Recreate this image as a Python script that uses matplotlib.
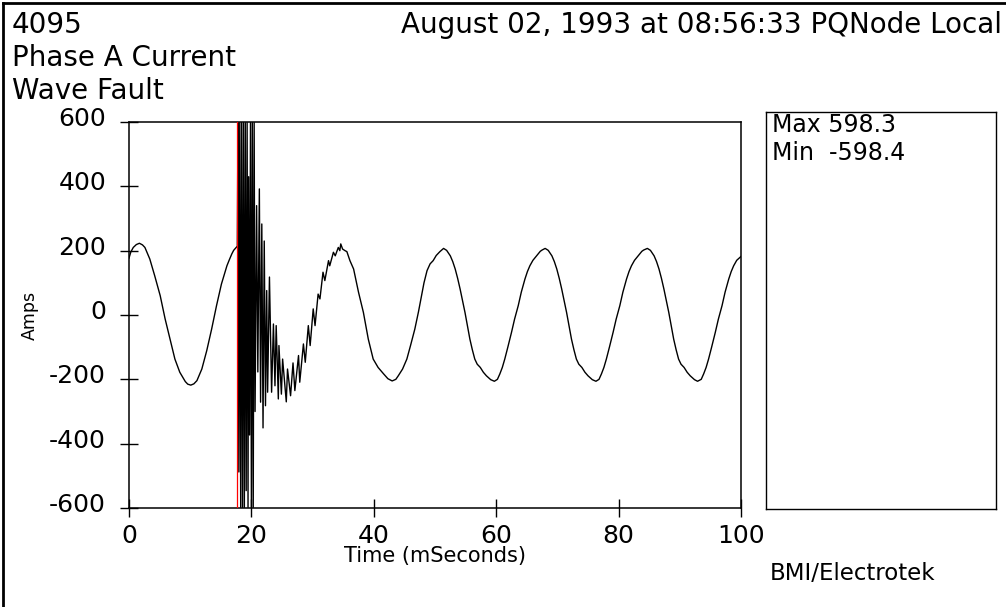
import matplotlib
matplotlib.use("Agg")
import matplotlib.pyplot as plt
from matplotlib.lines import Line2D
from matplotlib.transforms import ScaledTranslation

plt.rcParams["axes.unicode_minus"] = False

# Phase A current record (ms, A)
TIME_MS = [
    # pre-fault cycle
    0.0, 0.3, 0.7, 1.2, 1.7, 2.2, 2.6, 3.4, 4.2, 5.1, 5.9, 6.7, 7.5, 8.3,
    9.2, 9.6, 10.1, 10.6, 11.1, 11.9, 12.7, 13.5, 14.3, 15.1, 16.0, 16.4,
    16.8, 17.1, 17.5, 17.7,
    # fault ringing
    17.80, 17.95, 18.10, 18.25, 18.40, 18.55, 18.70, 18.85, 19.00, 19.15,
    19.30, 19.45, 19.55, 19.70, 19.85, 20.00, 20.15, 20.30, 20.45, 20.60,
    20.85, 21.05, 21.30, 21.50, 21.70, 21.90, 22.10, 22.30, 22.50, 22.65,
    22.95, 23.30, 23.60, 23.85, 24.05, 24.40, 24.50, 24.90, 25.10, 25.70,
    25.90, 26.40, 26.80, 27.10, 27.70, 27.90, 28.50, 28.80, 29.30, 29.60,
    30.10, 30.40, 30.90, 31.20, 31.70, 32.00, 32.60, 32.80, 33.40, 33.70,
    34.20, 34.45, 34.60, 34.90, 35.30, 35.60, 36.10,
    # recovery cycle
    36.7, 37.5, 38.3, 39.1, 39.9, 40.7, 41.6, 42.3, 43.0, 43.6, 44.0, 44.7,
    45.4, 46.0, 46.7, 47.3, 47.8, 48.2, 48.7, 49.2, 49.7, 50.2, 50.8,
    # steady 60 Hz cycles
    51.4, 51.9, 52.5, 52.9, 53.3, 53.7, 54.1, 54.5, 54.9, 55.3, 55.7, 56.1,
    56.5, 56.9, 57.4, 57.9, 58.4, 59.1, 59.7, 60.2, 60.6, 61.0, 61.4, 61.9,
    62.5, 63.0, 63.6, 64.1, 64.7, 65.1, 65.5, 66.0, 66.6, 67.2, 67.5,
    68.0, 68.5, 69.1, 69.5, 69.9, 70.3, 70.7, 71.1, 71.5, 71.9, 72.3, 72.7,
    73.1, 73.5, 74.0, 74.5, 75.0, 75.7, 76.3, 76.8, 77.2, 77.6, 78.0, 78.5,
    79.1, 79.6, 80.2, 80.7, 81.3, 81.7, 82.1, 82.6, 83.2, 83.8, 84.1,
    84.7, 85.2, 85.8, 86.2, 86.6, 87.0, 87.4, 87.8, 88.2, 88.6, 89.0, 89.4,
    89.8, 90.2, 90.7, 91.2, 91.7, 92.4, 92.9, 93.5, 93.9, 94.3, 94.7, 95.2,
    95.8, 96.3, 96.9, 97.4, 98.0, 98.4, 98.8, 99.3, 100.0,
]
AMPS = [
    177, 196, 210, 219, 223, 218, 210, 174, 122, 60, -12, -75, -137, -178,
    -207, -215, -218, -214, -204, -168, -111, -44, 29, 96, 153, 172,
    190, 201, 210, 214,
    598, -488, 598, -598, 598, -598, 598, -598, 598, -546,
    598, -598, 430, -373, 598, -598, 598, -598, 598, -300,
    340, -177, 392, -271, 283, -351, 230, -282, 76, -240,
    118, -240, -28, -220, -33, -261, -95, -246, -137, -270,
    -168, -251, -149, -235, -126, -209, -90, -147, -33, -95,
    19, -33, 65, 50, 133, 107, 169, 153, 195, 184,
    210, 200, 221, 205, 200, 197, 169,
    143, 71, 8, -75, -137, -163, -183, -198, -205, -200, -189, -168,
    -137, -95, -44, 10, 60, 100, 138, 159, 169, 185, 197,
    207, 201, 184, 166, 143, 114, 81, 45, 8, -34, -75, -108,
    -137, -153, -163, -178, -189, -201, -206, -200, -183, -163, -137, -100,
    -54, -13, 29, 71, 112, 135, 153, 170, 184, 198, 202,
    207, 201, 184, 166, 143, 114, 81, 45, 8, -34, -75, -108,
    -137, -153, -163, -178, -189, -201, -206, -200, -183, -163, -137, -100,
    -54, -13, 29, 71, 112, 135, 153, 170, 184, 198, 202,
    207, 201, 184, 166, 143, 114, 81, 45, 8, -34, -75, -108,
    -137, -153, -163, -178, -189, -201, -206, -200, -183, -163, -137, -100,
    -54, -13, 29, 71, 112, 135, 153, 170, 182,
]
TRIGGER_MS = 17.7

X_TICKS = [0, 20, 40, 60, 80, 100]
Y_TICKS = [-600, -400, -200, 0, 200, 400, 600]

HEADER_LEFT = ["4095", "Phase A Current", "Wave Fault"]
HEADER_RIGHT = "August 02, 1993 at 08:56:33 PQNode Local"
STATS = ["Max 598.3", "Min  -598.4"]
FOOTER = "BMI/Electrotek"

W, H = 1006, 607
fig = plt.figure(figsize=(W / 100, H / 100), dpi=100)


def fx(px):
    return px / W


def fy(py):
    return 1 - py / H


# outer frame (left and top edges only show in the original)
fig.add_artist(Line2D([fx(3), fx(3)], [0, fy(3)], color="black", lw=2))
fig.add_artist(Line2D([fx(3), 1], [fy(3), fy(3)], color="black", lw=2))

# main waveform axes
ax = fig.add_axes([fx(129), fy(508), fx(741) - fx(129), fy(122) - fy(508)])
ax.plot(TIME_MS, AMPS, color="black", lw=1.0)
ax.axvline(TRIGGER_MS, color="red", lw=0.9, zorder=3)
ax.set_xlim(0, 100)
ax.set_ylim(-600, 600)
ax.set_xticks(X_TICKS)
ax.set_yticks(Y_TICKS)
ax.tick_params(direction="inout", length=13, width=1, labelsize=18)
ax.tick_params(axis="x", pad=5)
ax.tick_params(axis="y", pad=10)
for sp in ax.spines.values():
    sp.set_linewidth(1.1)

# y labels sit a little above their ticks in the original
shift = ScaledTranslation(0, 4 / 72, fig.dpi_scale_trans)
for t in ax.yaxis.get_major_ticks():
    t.label1.set_transform(t.label1.get_transform() + shift)

ax.set_ylabel("Amps", fontsize=12.5, va="center")
ax.yaxis.set_label_coords(-0.162, 0.5)
ax.set_xlabel("Time (mSeconds)", fontsize=15, va="top")
ax.xaxis.set_label_coords(0.5, -0.098)

# side panel with extremes
side = fig.add_axes([fx(766), fy(509), fx(996) - fx(766), fy(112) - fy(509)])
side.set_xticks([])
side.set_yticks([])
for sp in side.spines.values():
    sp.set_linewidth(1)
fig.text(fx(772), fy(132), STATS[0], fontsize=17, va="baseline")
fig.text(fx(772), fy(160), STATS[1], fontsize=17, va="baseline")

# header and footer text
for i, line in enumerate(HEADER_LEFT):
    fig.text(fx(12), fy(33 + 33 * i), line, fontsize=20, va="baseline")
fig.text(fx(1002), fy(33), HEADER_RIGHT, fontsize=20, va="baseline", ha="right")
fig.text(fx(770), fy(580), FOOTER, fontsize=16.5, va="baseline")

fig.savefig("out.png", dpi=100)
